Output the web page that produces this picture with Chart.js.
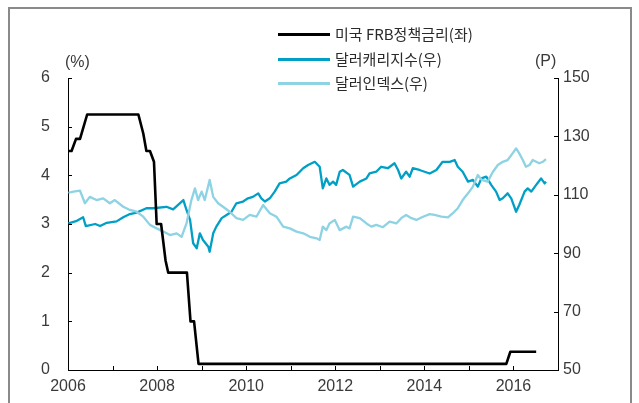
<!DOCTYPE html>
<html>
<head>
<meta charset="utf-8">
<script src="https://cdn.jsdelivr.net/npm/chart.js@4.4.1/dist/chart.umd.min.js"></script>
<style>
body { margin: 0; background: #fff; }
#wrap { position: relative; width: 639px; height: 403px; overflow: hidden; }
#frame { position: absolute; left: 8px; top: 7px; width: 624px; height: 420px; border: 2px solid #8a8a8a; box-sizing: border-box; }
canvas { position: absolute; left: 0; top: 0; }
.legend { position: absolute; left: 278px; font-family: "Noto Sans CJK KR", sans-serif; font-size: 15px; color: #2a2a2a; }
.legend div { position: relative; height: 24.5px; line-height: 24.5px; padding-left: 57px; white-space: nowrap; }
.legend span { position: absolute; left: 0; top: 11px; width: 52px; height: 3px; }
.unit { position: absolute; font-family: "Liberation Sans", Arial, sans-serif; font-size: 16px; color: #3a3a3a; }
</style>
</head>
<body>
<div id="wrap">
<div id="frame"></div>
<canvas id="chart" width="639" height="403"></canvas>
<div class="legend" style="top:22px">
  <div><span style="background:#000"></span>미국 FRB정책금리(좌)</div>
  <div><span style="background:#00a0c6"></span>달러캐리지수(우)</div>
  <div><span style="background:#8dd3e3"></span>달러인덱스(우)</div>
</div>
<div class="unit" style="left:65px; top:53px">(%)</div>
<div class="unit" style="left:535px; top:52px">(P)</div>
</div>
<script>
// US FRB policy rate (left axis, %)
var frbYears = [2006.00, 2006.08, 2006.18, 2006.27, 2006.43, 2007.58, 2007.69, 2007.76, 2007.84, 2007.93, 2007.99, 2008.09, 2008.19, 2008.25, 2008.67, 2008.75, 2008.83, 2008.93, 2015.84, 2015.93, 2016.51];
var frbRates = [4.5, 4.5, 4.75, 4.75, 5.25, 5.25, 4.86, 4.5, 4.5, 4.28, 3.0, 3.0, 2.25, 2.0, 2.0, 1.0, 1.0, 0.125, 0.125, 0.375, 0.375];

// dollar carry index (right axis, P)
var carryYears = [2006.01, 2006.20, 2006.34, 2006.40, 2006.61, 2006.72, 2006.87, 2007.09, 2007.24, 2007.39, 2007.54, 2007.76, 2007.91, 2008.21, 2008.36, 2008.59, 2008.66, 2008.74, 2008.81, 2008.89, 2008.96, 2009.03, 2009.15, 2009.18, 2009.26, 2009.33, 2009.45, 2009.56, 2009.67, 2009.78, 2009.93, 2010.04, 2010.15, 2010.27, 2010.34, 2010.42, 2010.53, 2010.64, 2010.75, 2010.90, 2010.98, 2011.13, 2011.28, 2011.39, 2011.54, 2011.65, 2011.72, 2011.80, 2011.87, 2011.95, 2012.02, 2012.10, 2012.17, 2012.32, 2012.40, 2012.55, 2012.70, 2012.77, 2012.92, 2013.03, 2013.18, 2013.33, 2013.41, 2013.48, 2013.59, 2013.67, 2013.74, 2013.89, 2014.12, 2014.27, 2014.41, 2014.57, 2014.68, 2014.75, 2014.86, 2014.98, 2015.09, 2015.20, 2015.28, 2015.39, 2015.50, 2015.61, 2015.69, 2015.76, 2015.87, 2015.95, 2016.06, 2016.13, 2016.25, 2016.32, 2016.40, 2016.51, 2016.62, 2016.70, 2016.73];
var carryValues = [100.2, 101.1, 102.3, 99.3, 100.0, 99.3, 100.4, 100.9, 102.3, 103.4, 103.9, 105.4, 105.4, 105.9, 105.0, 108.2, 104.8, 101.4, 93.4, 91.7, 96.8, 94.5, 92.2, 90.5, 96.8, 99.1, 102.0, 103.1, 104.2, 107.1, 107.7, 108.8, 109.3, 110.5, 108.8, 107.7, 108.8, 111.1, 113.9, 114.5, 115.6, 116.8, 119.1, 120.2, 121.3, 119.6, 112.2, 115.6, 113.4, 114.5, 113.4, 117.9, 118.5, 116.8, 112.8, 114.5, 115.6, 117.3, 117.9, 119.6, 119.1, 120.8, 118.5, 115.6, 117.9, 116.2, 119.1, 118.5, 117.3, 118.5, 121.3, 121.3, 121.9, 119.6, 117.9, 114.5, 115.1, 112.8, 115.6, 116.2, 113.4, 111.1, 108.2, 108.8, 110.5, 108.8, 104.2, 106.5, 111.1, 112.2, 111.1, 113.4, 115.6, 113.9, 114.5];

// dollar index (right axis, P)
var dollarYears = [2006.01, 2006.12, 2006.27, 2006.38, 2006.49, 2006.64, 2006.79, 2006.94, 2007.05, 2007.24, 2007.39, 2007.54, 2007.69, 2007.84, 2007.99, 2008.14, 2008.29, 2008.44, 2008.55, 2008.66, 2008.77, 2008.85, 2008.92, 2009.00, 2009.07, 2009.18, 2009.26, 2009.37, 2009.48, 2009.63, 2009.78, 2009.93, 2010.08, 2010.23, 2010.38, 2010.53, 2010.68, 2010.83, 2010.98, 2011.13, 2011.28, 2011.43, 2011.58, 2011.65, 2011.72, 2011.80, 2011.87, 2011.99, 2012.10, 2012.25, 2012.32, 2012.40, 2012.55, 2012.70, 2012.81, 2012.92, 2013.07, 2013.22, 2013.37, 2013.48, 2013.59, 2013.71, 2013.82, 2013.97, 2014.12, 2014.23, 2014.38, 2014.53, 2014.64, 2014.75, 2014.86, 2014.98, 2015.09, 2015.20, 2015.29, 2015.42, 2015.54, 2015.65, 2015.76, 2015.87, 2015.98, 2016.06, 2016.13, 2016.21, 2016.28, 2016.36, 2016.43, 2016.51, 2016.58, 2016.66, 2016.73];
var dollarValues = [110.7, 111.1, 111.4, 107.1, 109.3, 108.2, 108.8, 107.1, 108.2, 105.9, 104.8, 104.2, 102.5, 99.7, 98.5, 97.4, 96.2, 96.8, 95.6, 100.2, 108.2, 112.2, 108.2, 111.1, 108.2, 115.1, 109.3, 107.1, 105.9, 104.2, 102.0, 101.4, 103.1, 102.5, 106.5, 103.7, 102.5, 99.1, 98.5, 97.4, 96.8, 95.6, 95.1, 94.5, 99.1, 97.9, 100.2, 101.4, 97.9, 99.1, 98.5, 102.5, 102.0, 100.2, 99.1, 99.7, 98.9, 100.8, 100.2, 102.0, 103.1, 102.0, 101.4, 102.5, 103.4, 103.1, 102.5, 102.3, 103.7, 105.4, 108.2, 110.5, 112.8, 116.8, 115.1, 114.5, 117.9, 120.2, 121.3, 121.9, 124.2, 125.9, 124.2, 121.9, 119.6, 120.2, 121.9, 121.3, 120.8, 121.3, 122.2];

var xMin = 2006, xMax = 2017;
var leftTicks = [0, 1, 2, 3, 4, 5, 6];
var rightTicks = [50, 70, 90, 110, 130, 150];

function toPoints(xs, ys) {
    var pts = [];
    for (var i = 0; i < xs.length; i++) {
        pts.push({x: xs[i], y: ys[i]});
    }
    return pts;
}

// ticks drawn inward, like the original
var innerTicks = {
    id: 'innerTicks',
    afterDraw: function(chart) {
        var c = chart.ctx;
        var area = chart.chartArea;
        var len = 4;
        c.save();
        c.strokeStyle = '#000';
        c.lineWidth = 1;
        c.beginPath();
        chart.scales.y.ticks.forEach(function(t) {
            var py = Math.round(chart.scales.y.getPixelForValue(t.value)) + 0.5;
            c.moveTo(area.left, py);
            c.lineTo(area.left + len, py);
        });
        chart.scales.y2.ticks.forEach(function(t) {
            var py = Math.round(chart.scales.y2.getPixelForValue(t.value)) + 0.5;
            c.moveTo(area.right, py);
            c.lineTo(area.right - len, py);
        });
        chart.scales.x.ticks.forEach(function(t) {
            var px = Math.round(chart.scales.x.getPixelForValue(t.value)) + 0.5;
            c.moveTo(px, area.bottom);
            c.lineTo(px, area.bottom - len);
        });
        c.stroke();
        c.restore();
    }
};

var tickFont = {family: '"Liberation Sans", Arial, sans-serif', size: 16};

var ctx = document.getElementById('chart').getContext('2d');
var chart = new Chart(ctx, {
    type: 'line',
    data: {
        datasets: [{
            label: '미국 FRB정책금리(좌)',
            data: toPoints(frbYears, frbRates),
            borderColor: '#000',
            borderWidth: 2.6,
            yAxisID: 'y'
        }, {
            label: '달러인덱스(우)',
            data: toPoints(dollarYears, dollarValues),
            borderColor: '#8dd3e3',
            borderWidth: 2.3,
            yAxisID: 'y2'
        }, {
            label: '달러캐리지수(우)',
            data: toPoints(carryYears, carryValues),
            borderColor: '#00a0c6',
            borderWidth: 2.3,
            yAxisID: 'y2'
        }]
    },
    options: {
        responsive: false,
        animation: false,
        layout: { padding: {top: 78, left: 0, right: 0, bottom: 0} },
        elements: { point: { radius: 0 }, line: { tension: 0, borderJoinStyle: 'round' } },
        plugins: { legend: { display: false }, tooltip: { enabled: false } },
        scales: {
            x: {
                type: 'linear',
                min: xMin,
                max: xMax,
                grid: { display: false, drawTicks: false },
                border: { display: true, color: '#000', width: 1 },
                afterFit: function(s) { s.height = 33; },
                ticks: {
                    stepSize: 1,
                    autoSkip: false,
                    maxRotation: 0,
                    padding: 7,
                    color: '#3a3a3a',
                    font: tickFont,
                    callback: function(v) { return (v % 2 === 0 && v < xMax) ? String(v) : ''; }
                }
            },
            y: {
                position: 'left',
                min: 0,
                max: 6,
                afterBuildTicks: function(s) { s.ticks = leftTicks.map(function(v) { return {value: v}; }); },
                afterFit: function(s) { s.width = 68; },
                grid: { display: false, drawTicks: false },
                border: { display: true, color: '#000', width: 1 },
                ticks: { padding: 18, color: '#3a3a3a', font: tickFont }
            },
            y2: {
                position: 'right',
                min: 50,
                max: 150,
                afterBuildTicks: function(s) { s.ticks = rightTicks.map(function(v) { return {value: v}; }); },
                afterFit: function(s) { s.width = 81; },
                grid: { display: false, drawTicks: false },
                border: { display: true, color: '#000', width: 1 },
                ticks: { padding: 5, color: '#3a3a3a', font: tickFont }
            }
        }
    },
    plugins: [innerTicks]
});
</script>
</body>
</html>
